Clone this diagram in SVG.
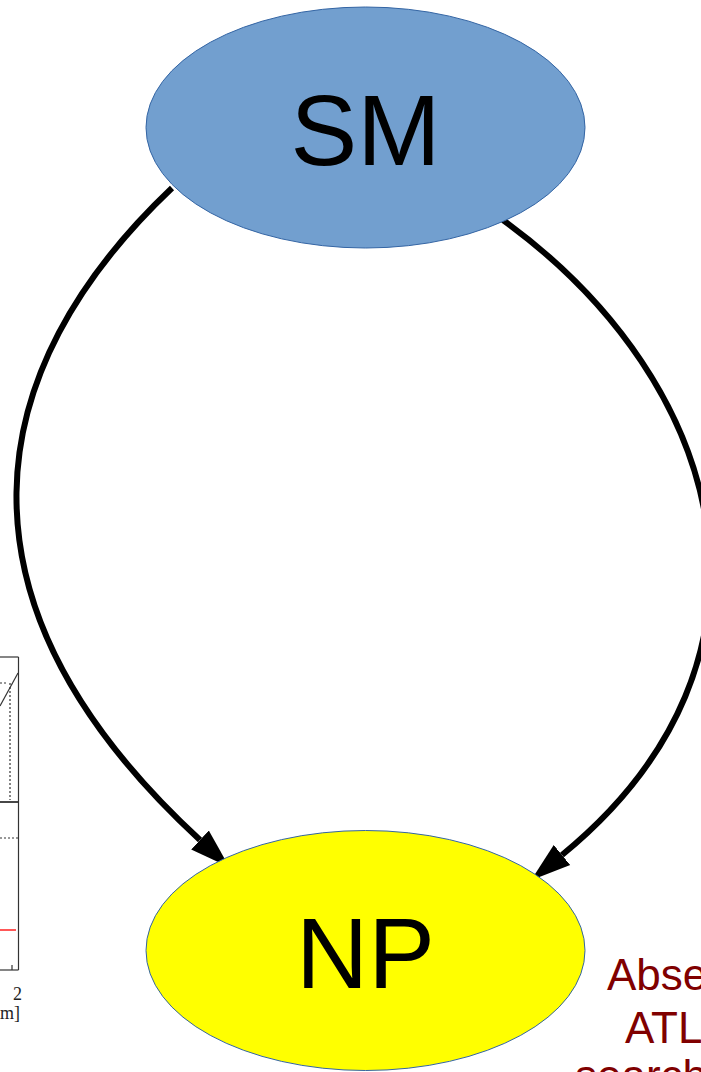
<svg xmlns="http://www.w3.org/2000/svg" width="701" height="1072" viewBox="0 0 701 1072">
  <style>
    .node { stroke: #3465a4; stroke-width: 1; }
    .label { font-family: "Liberation Sans", Arial, sans-serif; font-size: 100px; fill: #000000; text-anchor: middle; }
    .edge { fill: none; stroke: #000000; stroke-width: 6; }
    .note { font-family: "Liberation Sans", Arial, sans-serif; font-size: 44px; fill: #800000; }
    .plot { fill: none; stroke: #333333; stroke-width: 1.2; }
    .plotdot { fill: none; stroke: #333333; stroke-width: 1.2; stroke-dasharray: 2 2; }
    .plottext { font-family: "Liberation Serif", "Times New Roman", serif; font-size: 18px; fill: #222222; }
  </style>
  <defs>
    <marker id="arrow" markerUnits="userSpaceOnUse" markerWidth="40" markerHeight="28" viewBox="0 0 40 28" refX="0" refY="14" orient="auto">
      <path d="M0,1 L40,14 L0,27 Z" fill="#000000"/>
    </marker>
  </defs>
  <rect width="701" height="1072" fill="#ffffff"/>

  <g id="plot-fragment">
    <line class="plot" x1="0" y1="657" x2="18.5" y2="657"/>
    <line class="plot" x1="18.5" y1="657" x2="18.5" y2="970"/>
    <line class="plot" x1="0" y1="802" x2="18.5" y2="802" style="stroke-width:1.8"/>
    <line class="plot" x1="0" y1="970" x2="18.5" y2="970"/>
    <line class="plot" x1="12" y1="970" x2="12" y2="965"/>
    <line class="plot" x1="0" y1="706" x2="18" y2="673"/>
    <line class="plotdot" x1="10" y1="683" x2="10" y2="800"/>
    <line class="plotdot" x1="0" y1="683" x2="8" y2="683"/>
    <line class="plotdot" x1="0" y1="838" x2="18" y2="838"/>
    <line x1="0" y1="930" x2="16" y2="930" stroke="#ff2020" stroke-width="1.5"/>
    <text class="plottext" x="13" y="1000">2</text>
    <text class="plottext" x="-9" y="1019">km]</text>
  </g>

  <g id="connectors">
    <path class="edge" d="M172,188 C -20,370 -60,600 200,840" marker-end="url(#arrow)"/>
    <path class="edge" d="M503,220 C 730,385 800,660 562,855" marker-end="url(#arrow)"/>
  </g>

  <g id="node-SM">
    <ellipse class="node" cx="365.5" cy="127.5" rx="219.5" ry="120.5" fill="#729fcf"/>
    <text class="label" x="365.5" y="165">SM</text>
  </g>

  <g id="node-NP">
    <ellipse class="node" cx="365.5" cy="950.5" rx="219.5" ry="120" fill="#ffff00"/>
    <text class="label" x="365.5" y="988">NP</text>
  </g>

  <g id="note">
    <text class="note" x="607" y="990">Abse</text>
    <text class="note" x="625" y="1043">ATL</text>
    <text class="note" x="575" y="1091">search</text>
  </g>
</svg>
